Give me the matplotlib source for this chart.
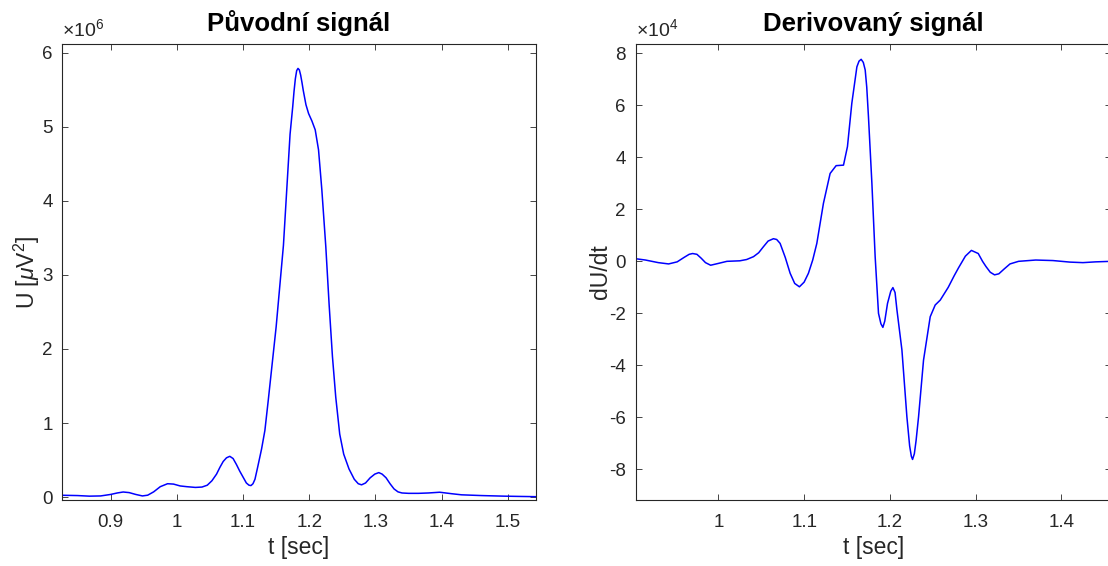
import numpy as np
import matplotlib.pyplot as plt

plt.rcParams['font.family'] = ['Liberation Sans', 'DejaVu Sans']
plt.rcParams['mathtext.fontset'] = 'custom'
plt.rcParams['mathtext.rm'] = 'Liberation Sans'
plt.rcParams['mathtext.it'] = 'Liberation Sans:italic'

# original signal, U in 1e6 uV^2
t_u = [0.827, 0.850, 0.868, 0.885, 0.900, 0.910, 0.919, 0.928, 0.938, 0.948,
       0.956, 0.965, 0.975, 0.986, 0.995, 1.005, 1.015, 1.028, 1.038, 1.046,
       1.053, 1.060, 1.065, 1.070, 1.075, 1.080, 1.085, 1.090, 1.095, 1.100,
       1.105, 1.109, 1.112, 1.115, 1.118, 1.122, 1.128, 1.133, 1.138, 1.144,
       1.150, 1.155, 1.161, 1.167, 1.171, 1.175, 1.177, 1.179, 1.181, 1.183,
       1.185, 1.187, 1.189, 1.191, 1.195, 1.199, 1.204, 1.209, 1.214, 1.219,
       1.225, 1.230, 1.235, 1.240, 1.246, 1.252, 1.260, 1.268, 1.274, 1.279,
       1.285, 1.292, 1.299, 1.305, 1.310, 1.316, 1.322, 1.328, 1.334, 1.340,
       1.350, 1.365, 1.380, 1.397, 1.415, 1.430, 1.460, 1.494, 1.520, 1.542]
u_vals = [0.024, 0.02, 0.012, 0.015, 0.035, 0.055, 0.068, 0.06, 0.035, 0.015,
          0.025, 0.07, 0.14, 0.18, 0.175, 0.15, 0.14, 0.13, 0.135, 0.16,
          0.22, 0.31, 0.40, 0.48, 0.53, 0.55, 0.52, 0.44, 0.35, 0.27,
          0.19, 0.16, 0.155, 0.18, 0.24, 0.40, 0.65, 0.90, 1.3, 1.8,
          2.3, 2.8, 3.4, 4.3, 4.9, 5.27, 5.48, 5.65, 5.76, 5.79,
          5.77, 5.70, 5.60, 5.49, 5.30, 5.18, 5.08, 4.96, 4.69, 4.15,
          3.38, 2.6, 1.9, 1.35, 0.85, 0.58, 0.38, 0.24, 0.18, 0.165,
          0.19, 0.26, 0.31, 0.33, 0.31, 0.26, 0.18, 0.11, 0.07, 0.055,
          0.05, 0.05, 0.055, 0.065, 0.045, 0.03, 0.02, 0.012, 0.008, 0.005]
u_yticks = [0, 1, 2, 3, 4, 5, 6]
u_xticks = [0.9, 1.0, 1.1, 1.2, 1.3, 1.4, 1.5]
u_xlabels = ['0.9', '1', '1.1', '1.2', '1.3', '1.4', '1.5']

# derivative, dU/dt in 1e4
t_d = [0.9036, 0.915, 0.930, 0.942, 0.952, 0.960, 0.966, 0.970, 0.975, 0.980,
       0.985, 0.991, 1.000, 1.010, 1.025, 1.033, 1.041, 1.047, 1.0525, 1.058,
       1.0642, 1.068, 1.072, 1.078, 1.0837, 1.089, 1.0945, 1.100, 1.105, 1.110,
       1.1148, 1.1225, 1.1303, 1.1373, 1.1459, 1.1505, 1.1556, 1.1615, 1.1640, 1.1665,
       1.1690, 1.1712, 1.173, 1.175, 1.179, 1.1828, 1.1867, 1.1895, 1.1918, 1.1940,
       1.1972, 1.2010, 1.2035, 1.2060, 1.2082, 1.214, 1.2198, 1.2230, 1.2250, 1.2264,
       1.2285, 1.2305, 1.2334, 1.2392, 1.247, 1.2528, 1.2587, 1.268, 1.275, 1.280,
       1.288, 1.295, 1.303, 1.308, 1.312, 1.317, 1.322, 1.327, 1.333, 1.340,
       1.350, 1.370, 1.390, 1.410, 1.425, 1.440, 1.458]
d_vals = [0.10, 0.05, -0.05, -0.10, -0.02, 0.15, 0.27, 0.30, 0.27, 0.12,
          -0.05, -0.15, -0.08, 0.0, 0.02, 0.07, 0.18, 0.33, 0.56, 0.78,
          0.87, 0.84, 0.69, 0.15, -0.46, -0.85, -0.98, -0.80, -0.46, 0.05,
          0.69, 2.23, 3.38, 3.68, 3.70, 4.41, 6.08, 7.48, 7.70, 7.77,
          7.65, 7.36, 6.7, 5.56, 3.0, 0.18, -2.0, -2.4, -2.54, -2.3,
          -1.62, -1.15, -1.01, -1.2, -1.87, -3.41, -5.98, -7.1, -7.5, -7.62,
          -7.4, -6.9, -5.98, -3.80, -2.13, -1.68, -1.49, -1.0, -0.55, -0.25,
          0.2, 0.42, 0.3, 0.0, -0.2, -0.42, -0.52, -0.48, -0.3, -0.1,
          0.0, 0.05, 0.03, -0.03, -0.05, -0.02, 0.0]
d_yticks = [-8, -6, -4, -2, 0, 2, 4, 6, 8]
d_xticks = [1.0, 1.1, 1.2, 1.3, 1.4]
d_xlabels = ['1', '1.1', '1.2', '1.3', '1.4']

gray = (0.15, 0.15, 0.15)

fig = plt.figure(figsize=(11.08, 5.66), dpi=100)
ax1 = fig.add_axes([0.0562, 0.1166, 0.4273, 0.8057])
ax2 = fig.add_axes([0.5737, 0.1166, 0.4292, 0.8057])


def style(ax, yticks, scale, exp):
    for s in ax.spines.values():
        s.set_color(gray)
        s.set_linewidth(0.8)
    ax.set_yticks(np.array(yticks) * scale)
    ax.set_yticklabels([str(v) for v in yticks])
    ax.tick_params(direction='in', length=4, width=0.6, colors=gray,
                   labelsize=13.5, top=True, right=True)
    ax.tick_params(axis='x', pad=10)
    ax.tick_params(axis='y', pad=7)
    ax.text(0.0, 1.008, r'$\times10^{%d}$' % exp, transform=ax.transAxes,
            ha='left', va='bottom', fontsize=14, color=gray)


ax1.plot(t_u, np.array(u_vals) * 1e6, color='blue', lw=1.1)
ax1.set_xlim(0.827, 1.542)
ax1.set_ylim(-0.04e6, 6.12e6)
ax1.set_xticks(u_xticks)
ax1.set_xticklabels(u_xlabels)
style(ax1, u_yticks, 1e6, 6)
ax1.set_title('Původní signál', fontsize=18.5, fontweight='bold', pad=9)
ax1.set_xlabel('t [sec]', fontsize=16.5, color=gray, labelpad=4)
ax1.set_ylabel(r'U [$\mu$V$^2$]', fontsize=16.5, color=gray, labelpad=0)

ax2.plot(t_d, np.array(d_vals) * 1e4, color='blue', lw=1.1)
ax2.set_xlim(0.9036, 1.458)
ax2.set_ylim(-9.18e4, 8.36e4)
ax2.set_xticks(d_xticks)
ax2.set_xticklabels(d_xlabels)
style(ax2, d_yticks, 1e4, 4)
ax2.set_title('Derivovaný signál', fontsize=18.5, fontweight='bold', pad=9)
ax2.set_xlabel('t [sec]', fontsize=16.5, color=gray, labelpad=4)
ax2.set_ylabel('dU/dt', fontsize=16.5, color=gray, labelpad=-2)

fig.savefig('out.png', dpi=100)
